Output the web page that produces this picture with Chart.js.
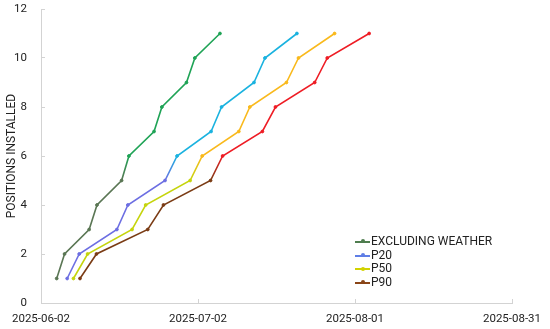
<!DOCTYPE html>
<html>
<head>
<meta charset="utf-8">
<script src="https://cdn.jsdelivr.net/npm/chart.js@4/dist/chart.umd.min.js"></script>
<style>
    html, body { margin: 0; padding: 0; background: #fff; }
    #wrap { position: relative; width: 550px; height: 329px; }
    #legend { position: absolute; left: 355px; top: 235px; font: 12px Roboto, sans-serif; color: #222; }
    #legend div { height: 13.7px; line-height: 13.7px; white-space: nowrap; }
    #legend .key { display: inline-block; position: relative; width: 15px; height: 2px; vertical-align: middle; margin-right: 1px; }
    #legend .key i { position: absolute; left: 6px; top: -1.5px; width: 4px; height: 4px; border-radius: 50%; background: inherit; }
</style>
</head>
<body>
<div id="wrap">
    <canvas id="chart" width="550" height="329"></canvas>
    <div id="legend"></div>
</div>
<script>
// days after 2025-06-02 at which each position was installed
const positions = [1, 2, 3, 4, 5, 6, 7, 8, 9, 10, 11];
const exclWeatherDays = [3.0, 4.5, 9.2, 10.7, 15.4, 16.8, 21.6, 23.1, 27.8, 29.4, 34.2];
const p20Days = [5.0, 7.3, 14.5, 16.6, 23.7, 26.0, 32.5, 34.5, 40.7, 42.8, 48.9];
const p50Days = [6.2, 8.9, 17.4, 20.0, 28.5, 30.8, 37.8, 39.9, 46.9, 49.2, 56.1];
const p90Days = [7.45, 10.6, 20.4, 23.4, 32.4, 34.7, 42.3, 44.8, 52.3, 54.7, 62.7];
const xTickLabels = ['2025-06-02', '2025-07-02', '2025-08-01', '2025-08-31'];
const seriesLabels = ['EXCLUDING WEATHER', 'P20', 'P50', 'P90'];

const FONT = { family: 'Roboto, sans-serif', size: 11.5 };

// lower part of each line is drawn darker, upper part brighter
function lineColor(low, high) {
    return (ctx) => {
        const chart = ctx.chart;
        if (!chart.chartArea) return low;
        const y = chart.scales.y;
        const g = chart.ctx.createLinearGradient(0, y.getPixelForValue(5), 0, y.getPixelForValue(6));
        g.addColorStop(0, low);
        g.addColorStop(1, high);
        return g;
    };
}

function pointColor(low, high) {
    return (ctx) => (ctx.parsed && ctx.parsed.y >= 6 ? high : low);
}

function makeSeries(label, days, low, high) {
    return {
        label: label,
        data: days.map((d, i) => ({ x: d, y: positions[i] })),
        borderColor: lineColor(low, high),
        pointBackgroundColor: pointColor(low, high),
        pointBorderColor: pointColor(low, high),
        borderWidth: 1.6,
        pointRadius: 1.4,
        pointBorderWidth: 1,
        tension: 0
    };
}

const series = [
    makeSeries(seriesLabels[0], exclWeatherDays, '#5a7654', '#1fa356'),
    makeSeries(seriesLabels[1], p20Days, '#6c6ee2', '#1ab2df'),
    makeSeries(seriesLabels[2], p50Days, '#c5d40c', '#f9b91c'),
    makeSeries(seriesLabels[3], p90Days, '#7a3b14', '#ee1c24')
];
const legendColors = ['#4f7d4f', '#5f7ee6', '#d2d200', '#8a4517'];

new Chart(document.getElementById('chart'), {
    type: 'line',
    data: { datasets: series },
    options: {
        responsive: false,
        animation: false,
        layout: { padding: 0 },
        plugins: { legend: { display: false }, tooltip: { enabled: false } },
        scales: {
            x: {
                type: 'linear',
                min: 0,
                max: 90,
                ticks: {
                    stepSize: 30,
                    font: FONT,
                    color: '#222',
                    padding: 13,
                    maxRotation: 0,
                    callback: (v) => xTickLabels[v / 30]
                },
                grid: { drawOnChartArea: false, tickLength: -4, color: '#d3d3d3' },
                border: { color: '#d3d3d3' },
                afterFit: (s) => { s.height = 26; s.paddingLeft = 30; s.paddingRight = 38; }
            },
            y: {
                min: 0,
                max: 12,
                ticks: { stepSize: 2, font: FONT, color: '#222', padding: 18 },
                grid: { drawOnChartArea: false, tickLength: -4, color: '#d3d3d3' },
                border: { color: '#d3d3d3' },
                title: { display: true, text: 'POSITIONS INSTALLED', font: { family: 'Roboto, sans-serif', size: 12 }, color: '#222', padding: { top: 5, bottom: 0 } },
                afterFit: (s) => { s.width = 41; s.paddingTop = 9; s.paddingBottom = 6; }
            }
        }
    }
});

const legendEl = document.getElementById('legend');
seriesLabels.forEach((label, i) => {
    const row = document.createElement('div');
    row.innerHTML = `<span class="key" style="background:${legendColors[i]}"><i></i></span>${label}`;
    legendEl.appendChild(row);
});
</script>
</body>
</html>
